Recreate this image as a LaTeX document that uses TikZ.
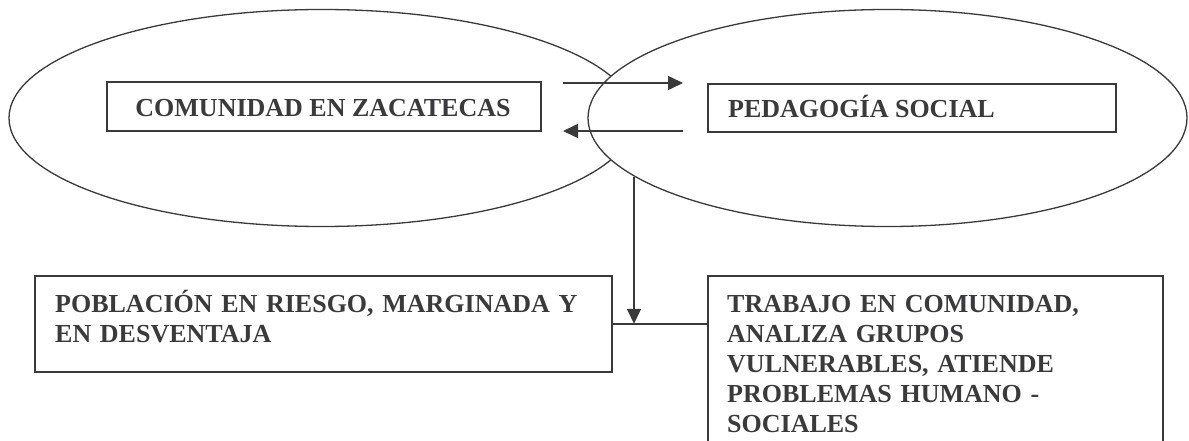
\documentclass[tikz,border=0pt]{standalone}
\usepackage{fontspec}
\setmainfont{Liberation Serif}
\usetikzlibrary{shapes.geometric,arrows.meta}
\definecolor{ink}{RGB}{58,58,60}
\tikzset{
  oval/.style={ellipse, draw=ink, line width=1.3pt, inner sep=0pt, minimum height=217pt},
  box/.style={draw=ink, line width=1.6pt, rectangle, inner sep=0pt, anchor=north west},
  txt/.style={text=ink, inner sep=0pt, font=\fontsize{26}{30.2}\selectfont\bfseries},
  mtxt/.style={txt, anchor=base west, text width=560pt, align=left},
  conn/.style={draw=ink, line width=1.6pt},
  arr/.style={conn, -{Triangle[length=15pt,width=14pt]}}
}
\begin{document}
\begin{tikzpicture}[x=1pt,y=-1pt]
\useasboundingbox (0,0) rectangle (1189,441);
\clip (0,0) rectangle (1189,441);
% ellipses
\node[oval, minimum width=626pt] (L) at (322,118) {};
\node[oval, fill=white, minimum width=599pt] (R) at (887.5,118) {};
% top boxes
\node[box, minimum width=434pt, minimum height=49pt] (C) at (106,81) {};
\node[txt, anchor=base] (Ct) at (323,117) {COMUNIDAD EN ZACATECAS};
\node[box, minimum width=408pt, minimum height=48pt] (P) at (707,83) {};
\node[txt, anchor=base west] (Pt) at (728,118) {PEDAGOGÍA SOCIAL};
% bottom boxes
\node[box, minimum width=577pt, minimum height=96pt] (B) at (34,275) {};
\node[mtxt] (Bt) at (55,312) {POBLACIÓN EN RIESGO, MARGINADA Y\\EN DESVENTAJA};
\node[box, minimum width=455pt, minimum height=200pt] (T) at (707,275) {};
\node[mtxt] (Tt) at (727,312) {TRABAJO EN COMUNIDAD,\\ANALIZA GRUPOS\\VULNERABLES, ATIENDE\\PROBLEMAS HUMANO -\\SOCIALES};
% arrows between ellipses
\coordinate (a1) at (563,83);
\coordinate (a2) at (683,83);
\coordinate (b1) at (683,131);
\coordinate (b2) at (563,131);
\draw[arr] (a1) -- (a2);
\draw[arr] (b1) -- (b2);
% vertical arrow and horizontal connector
\coordinate (v) at (634,177);
\draw[conn] (B.east) -- (B.east -| T.west);
\draw[arr] (v) -- (v |- B.east);
\end{tikzpicture}
\end{document}
